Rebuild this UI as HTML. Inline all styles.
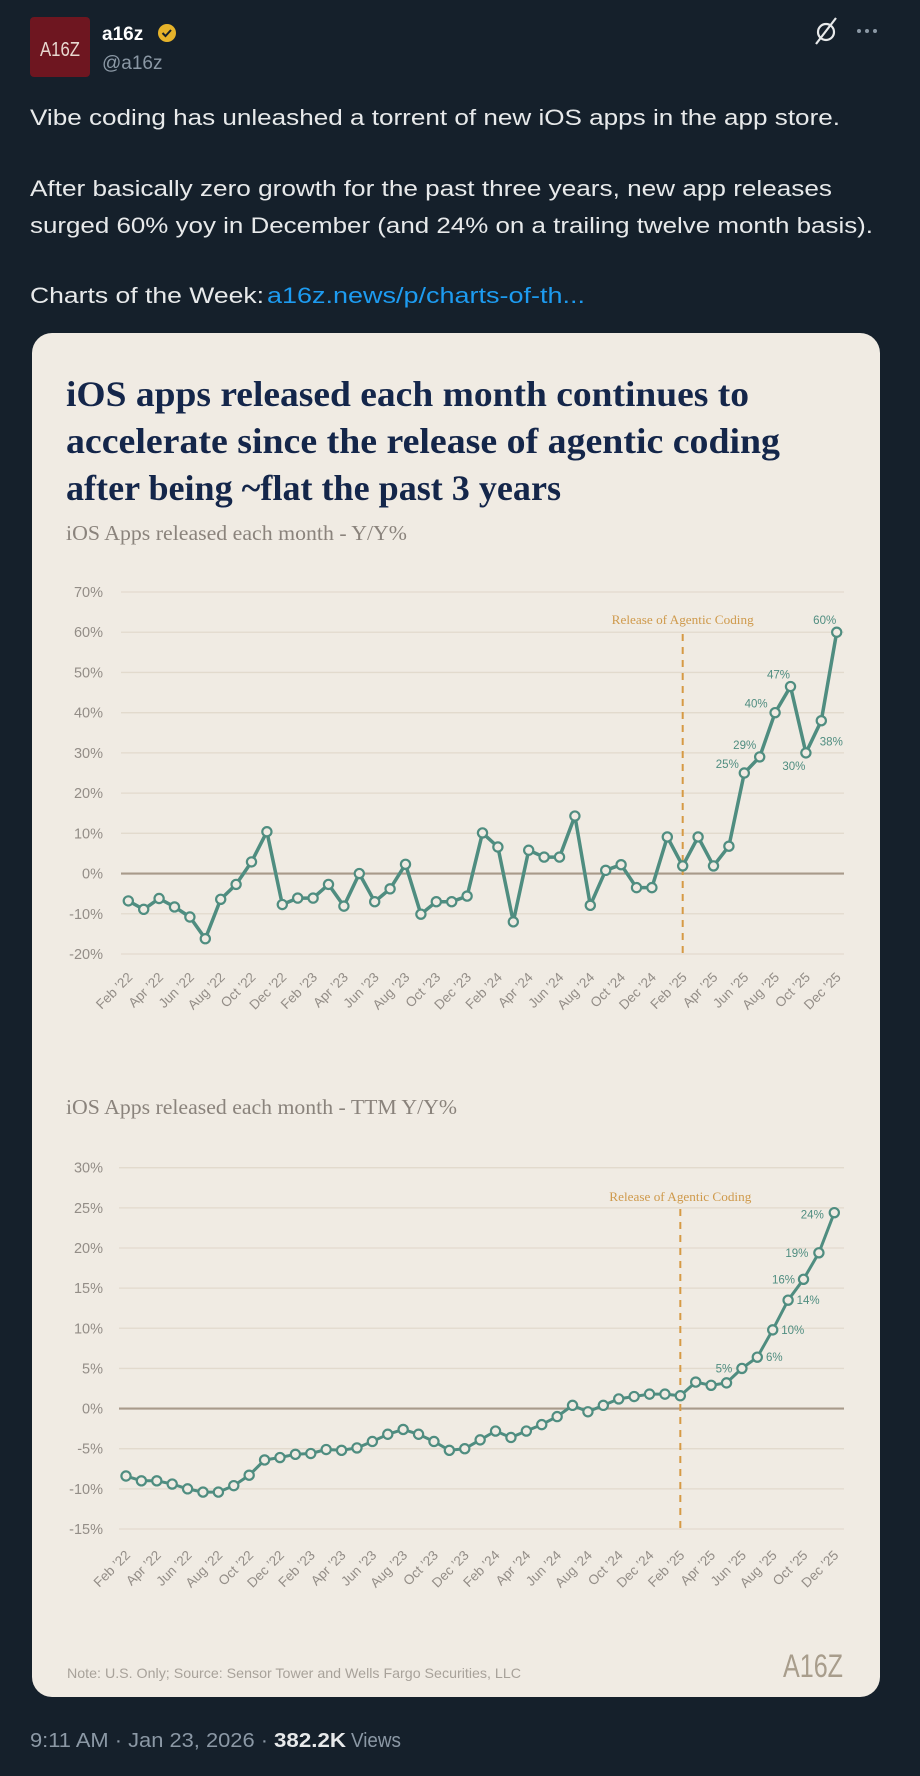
<!DOCTYPE html>
<html><head><meta charset="utf-8">
<style>
html,body{margin:0;padding:0;background:#15202b;}
svg{display:block;}
</style></head>
<body>
<svg id="root" width="920" height="1776" viewBox="0 0 920 1776" xmlns="http://www.w3.org/2000/svg">
  <rect x="0" y="0" width="920" height="1776" fill="#15202b"/>
  <g>
    <rect x="30" y="17" width="60" height="60" rx="4" fill="#6e1620"/>
    <text x="60" y="56" text-anchor="middle" font-family="Liberation Sans, sans-serif" font-size="20" fill="#e8d8d0" textLength="40" lengthAdjust="spacingAndGlyphs">A16Z</text>
  </g>
  <text x="102" y="40" font-family="Liberation Sans, sans-serif" font-weight="bold" font-size="19" fill="#ffffff">a16z</text>
  <g>
    <circle cx="167" cy="33" r="9" fill="#e6b32a"/>
    <path d="M162.5 33 l3 3 l5.5 -6" stroke="#15202b" stroke-width="2" fill="none"/>
  </g>
  <text x="102" y="69" font-family="Liberation Sans, sans-serif" font-size="19" fill="#8b98a5">@a16z</text>
  <g>
    <circle cx="826" cy="32" r="8" fill="none" stroke="#e7e9ea" stroke-width="2.2"/>
    <line x1="816" y1="44" x2="836" y2="18" stroke="#e7e9ea" stroke-width="2.2"/>
  </g>
  <g fill="#8b98a5">
    <circle cx="859" cy="31" r="2"/><circle cx="867" cy="31" r="2"/><circle cx="875" cy="31" r="2"/>
  </g>
  <g font-family="Liberation Sans, sans-serif" font-size="22.5" fill="#e7e9ea">
    <text x="30" y="125" textLength="810" lengthAdjust="spacingAndGlyphs">Vibe coding has unleashed a torrent of new iOS apps in the app store.</text>
    <text x="30" y="196" textLength="802" lengthAdjust="spacingAndGlyphs">After basically zero growth for the past three years, new app releases</text>
    <text x="30" y="233" textLength="843" lengthAdjust="spacingAndGlyphs">surged 60% yoy in December (and 24% on a trailing twelve month basis).</text>
    <text x="30" y="303" textLength="234" lengthAdjust="spacingAndGlyphs">Charts of the Week:</text>
    <text x="267" y="303" fill="#1d9bf0" textLength="318" lengthAdjust="spacingAndGlyphs">a16z.news/p/charts-of-th...</text>
  </g>
  <rect x="32" y="333" width="848" height="1364" rx="20" fill="#f0ebe3"/>
  <g font-family="Liberation Serif, serif" font-weight="bold" font-size="36" fill="#14264a">
    <text x="66" y="406" textLength="683" lengthAdjust="spacingAndGlyphs">iOS apps released each month continues to</text>
    <text x="66" y="453" textLength="714" lengthAdjust="spacingAndGlyphs">accelerate since the release of agentic coding</text>
    <text x="66" y="500" textLength="495" lengthAdjust="spacingAndGlyphs">after being ~flat the past 3 years</text>
  </g>
  <text x="66" y="540" font-family="Liberation Serif, serif" font-size="21" fill="#8a837c" textLength="341" lengthAdjust="spacingAndGlyphs">iOS Apps released each month - Y/Y%</text>
  <text x="66" y="1114" font-family="Liberation Serif, serif" font-size="21" fill="#8a837c" textLength="391" lengthAdjust="spacingAndGlyphs">iOS Apps released each month - TTM Y/Y%</text>
  <g id="chart1"></g>
  <g id="chart2"></g>
  <text x="67" y="1678" font-family="Liberation Sans, sans-serif" font-size="14" fill="#a8a29a" textLength="454" lengthAdjust="spacingAndGlyphs">Note: U.S. Only; Source: Sensor Tower and Wells Fargo Securities, LLC</text>
  <text x="813" y="1677" text-anchor="middle" font-family="Liberation Sans, sans-serif" font-size="32" fill="#a89d8c" textLength="60" lengthAdjust="spacingAndGlyphs">A16Z</text>
  <g font-family="Liberation Sans, sans-serif" font-size="20">
    <text x="30" y="1747" fill="#8b98a5" textLength="238" lengthAdjust="spacingAndGlyphs">9:11 AM · Jan 23, 2026 ·</text>
    <text x="274" y="1747" fill="#e7e9ea" font-weight="bold" textLength="72" lengthAdjust="spacingAndGlyphs">382.2K</text>
    <text x="351" y="1747" fill="#8b98a5" textLength="50" lengthAdjust="spacingAndGlyphs">Views</text>
  </g>
</svg>
<script>
const months = ["Feb '22","Mar '22","Apr '22","May '22","Jun '22","Jul '22","Aug '22","Sep '22","Oct '22","Nov '22","Dec '22",
"Jan '23","Feb '23","Mar '23","Apr '23","May '23","Jun '23","Jul '23","Aug '23","Sep '23","Oct '23","Nov '23","Dec '23",
"Jan '24","Feb '24","Mar '24","Apr '24","May '24","Jun '24","Jul '24","Aug '24","Sep '24","Oct '24","Nov '24","Dec '24",
"Jan '25","Feb '25","Mar '25","Apr '25","May '25","Jun '25","Jul '25","Aug '25","Sep '25","Oct '25","Nov '25","Dec '25"];
const yoyValues = [-6.8,-8.9,-6.2,-8.3,-10.8,-16.2,-6.4,-2.7,2.9,10.4,-7.7,
-6.1,-6.1,-2.7,-8.1,0,-7.0,-3.8,2.3,-10.1,-7.0,-7.0,-5.6,
10.1,6.6,-12.0,5.8,4.1,4.1,14.3,-7.9,0.8,2.2,-3.5,-3.5,
9.1,1.9,9.1,1.9,6.8,25,29,40,46.5,30,38,60];
const ttmValues = [-8.4,-9.0,-9.0,-9.4,-10.0,-10.4,-10.4,-9.6,-8.3,-6.4,-6.1,
-5.7,-5.6,-5.1,-5.2,-4.9,-4.1,-3.2,-2.6,-3.2,-4.1,-5.2,-5.0,
-3.9,-2.8,-3.6,-2.8,-2.0,-1.0,0.4,-0.4,0.4,1.2,1.5,1.8,
1.8,1.6,3.3,2.9,3.2,5.0,6.4,9.8,13.5,16.1,19.4,24.4];
const yoyTicks = [70,60,50,40,30,20,10,0,-10,-20];
const ttmTicks = [30,25,20,15,10,5,0,-5,-10,-15];
const yoyLabelIdx = [40,41,42,43,44,45,46];
const yoyLabelText = ["25%","29%","40%","47%","30%","38%","60%"];
const ttmLabelIdx = [40,41,42,43,44,45,46];
const ttmLabelText = ["5%","6%","10%","14%","16%","19%","24%"];
const eventIndex = 36;
const eventLabel = "Release of Agentic Coding";

const NS = "http://www.w3.org/2000/svg";
function mk(tag, attrs, parent){ const e=document.createElementNS(NS,tag); for(const k in attrs) e.setAttribute(k,attrs[k]); parent.appendChild(e); return e; }

function draw(g, o){
  const yMax=o.ticks[0], yMin=o.ticks[o.ticks.length-1];
  const ys = v => o.yTop + (yMax - v)/(yMax - yMin)*(o.yBot - o.yTop);
  const xs = i => o.x0 + i*(o.x1 - o.x0)/(months.length-1);
  o.ticks.forEach(t=>{
    const l=mk('line',{x1:o.gl,x2:o.gr,y1:ys(t),y2:ys(t),stroke:t===0?'#a89a8a':'#e2dacd','stroke-width':t===0?2.2:1.3},g);
    
    
    const tx=mk('text',{x:103,y:ys(t)+5,'text-anchor':'end','font-family':'Liberation Sans, sans-serif','font-size':14.5,fill:'#938d87'},g);
    tx.textContent=t+'%';
    
    
  });
  months.forEach((m,i)=>{
    if(i%2) return;
    const x=xs(i)+5, y=o.labY;
    const tx=mk('text',{x:x,y:y,'text-anchor':'end','font-family':'Liberation Sans, sans-serif','font-size':13.5,fill:'#938d87',transform:`rotate(-45 ${x} ${y})`},g);
    tx.textContent=m.replace("'","\u2019");
    
    
  });
  const ex=xs(eventIndex);
  const dl=mk('line',{x1:ex,x2:ex,y1:o.evTop,y2:o.yBot,stroke:'#d69a45','stroke-width':2,'stroke-dasharray':'7 6'},g);
  
  
  const el=mk('text',{x:ex,y:o.evLabY,'text-anchor':'middle','font-family':'Liberation Serif, serif','font-size':13,fill:'#cf9a4c',textLength:142,lengthAdjust:'spacingAndGlyphs'},g);
  el.textContent=eventLabel;
  
  
  const pts=o.values.map((v,i)=>xs(i).toFixed(1)+','+ys(v).toFixed(1)).join(' ');
  const pl=mk('polyline',{points:pts,fill:'none',stroke:'#4f8d80','stroke-width':o.lw,'stroke-linejoin':'round'},g);
  
  
  o.values.forEach((v,i)=>{
    const c=mk('circle',{cx:xs(i),cy:ys(v),r:4.6,fill:'#f0ebe3',stroke:'#4f8d80','stroke-width':2.2},g);
    
    
  });
  o.labIdx.forEach((idx,k)=>{
    const tx=mk('text',{x:xs(idx)+o.offX[k],y:ys(o.values[idx])+o.offY[k]+4,'text-anchor':'middle','font-family':'Liberation Sans, sans-serif','font-size':11.5,fill:'#4f8d80'},g);
    tx.textContent=o.labText[k];
    
    
  });
}
draw(document.getElementById('chart1'),{values:yoyValues,ticks:yoyTicks,yTop:592,yBot:954,x0:128.3,x1:836.7,gl:121,gr:844,labY:978,evTop:634,evLabY:624,lw:3.5,
  labIdx:yoyLabelIdx,labText:yoyLabelText,offX:[-17,-15,-19,-12,-12,10,-12],offY:[-9,-12,-9,-12,13,21,-12]});
draw(document.getElementById('chart2'),{values:ttmValues,ticks:ttmTicks,yTop:1167.7,yBot:1529,x0:126,x1:834.3,gl:119,gr:844,labY:1556,evTop:1209,evLabY:1201,lw:3,
  labIdx:ttmLabelIdx,labText:ttmLabelText,offX:[-18,17,20,20,-20,-22,-22],offY:[0,0,0,0,0,0,2]});
</script>
</body></html>
